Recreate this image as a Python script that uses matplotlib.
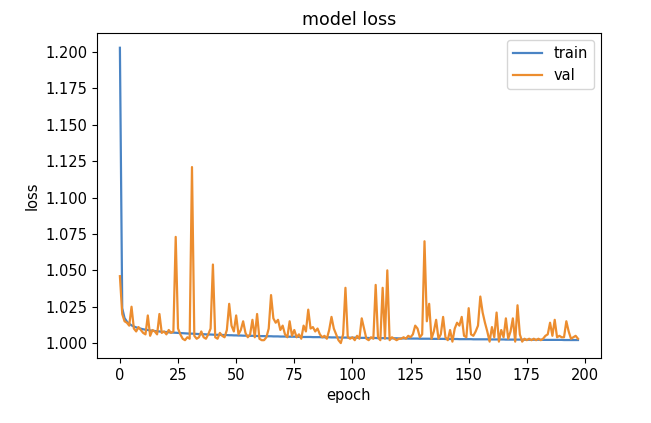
import numpy as np
import matplotlib
matplotlib.use("Agg")
from matplotlib import pyplot as plt

# training history (198 epochs)
train_loss = [
    1.2030, 1.0240, 1.0172, 1.0148, 1.0133, 1.0122, 1.0114, 1.0108, 1.0103, 1.0099,
    1.0095, 1.0092, 1.0090, 1.0087, 1.0085, 1.0083, 1.0081, 1.0080, 1.0078, 1.0077,
    1.0076, 1.0074, 1.0073, 1.0072, 1.0071, 1.0070, 1.0069, 1.0068, 1.0067, 1.0066,
    1.0065, 1.0065, 1.0064, 1.0063, 1.0062, 1.0061, 1.0061, 1.0060, 1.0059, 1.0059,
    1.0058, 1.0057, 1.0057, 1.0056, 1.0056, 1.0055, 1.0055, 1.0054, 1.0054, 1.0053,
    1.0053, 1.0052, 1.0052, 1.0051, 1.0051, 1.0050, 1.0050, 1.0050, 1.0049, 1.0049,
    1.0048, 1.0048, 1.0048, 1.0047, 1.0047, 1.0047, 1.0046, 1.0046, 1.0046, 1.0045,
    1.0045, 1.0045, 1.0044, 1.0044, 1.0044, 1.0044, 1.0043, 1.0043, 1.0043, 1.0042,
    1.0042, 1.0042, 1.0042, 1.0041, 1.0041, 1.0041, 1.0041, 1.0040, 1.0040, 1.0040,
    1.0040, 1.0039, 1.0039, 1.0039, 1.0039, 1.0038, 1.0038, 1.0038, 1.0038, 1.0037,
    1.0037, 1.0037, 1.0037, 1.0036, 1.0036, 1.0036, 1.0036, 1.0035, 1.0035, 1.0035,
    1.0035, 1.0034, 1.0034, 1.0034, 1.0034, 1.0033, 1.0033, 1.0033, 1.0033, 1.0033,
    1.0032, 1.0032, 1.0032, 1.0032, 1.0031, 1.0031, 1.0031, 1.0031, 1.0031, 1.0030,
    1.0030, 1.0030, 1.0030, 1.0030, 1.0029, 1.0029, 1.0029, 1.0029, 1.0029, 1.0029,
    1.0028, 1.0028, 1.0028, 1.0028, 1.0028, 1.0028, 1.0027, 1.0027, 1.0027, 1.0027,
    1.0027, 1.0027, 1.0026, 1.0026, 1.0026, 1.0026, 1.0026, 1.0026, 1.0026, 1.0025,
    1.0025, 1.0025, 1.0025, 1.0025, 1.0025, 1.0025, 1.0024, 1.0024, 1.0024, 1.0024,
    1.0024, 1.0024, 1.0024, 1.0024, 1.0023, 1.0023, 1.0023, 1.0023, 1.0023, 1.0023,
    1.0023, 1.0023, 1.0022, 1.0022, 1.0022, 1.0022, 1.0022, 1.0022, 1.0022, 1.0022,
    1.0022, 1.0021, 1.0021, 1.0021, 1.0021, 1.0021, 1.0021, 1.0021,
]

val_loss = [
    1.046, 1.020, 1.015, 1.014, 1.012, 1.025, 1.010, 1.008, 1.011, 1.009,
    1.007, 1.006, 1.019, 1.005, 1.009, 1.008, 1.006, 1.020, 1.007, 1.008,
    1.006, 1.009, 1.007, 1.008, 1.073, 1.010, 1.006, 1.003, 1.002, 1.004,
    1.003, 1.121, 1.005, 1.003, 1.004, 1.008, 1.004, 1.003, 1.006, 1.010,
    1.054, 1.004, 1.003, 1.007, 1.005, 1.004, 1.009, 1.027, 1.012, 1.008,
    1.019, 1.006, 1.009, 1.015, 1.007, 1.004, 1.006, 1.016, 1.004, 1.020,
    1.003, 1.002, 1.002, 1.004, 1.010, 1.033, 1.017, 1.014, 1.016, 1.009,
    1.012, 1.006, 1.004, 1.015, 1.005, 1.009, 1.004, 1.006, 1.003, 1.012,
    1.008, 1.023, 1.010, 1.011, 1.008, 1.010, 1.006, 1.004, 1.005, 1.003,
    1.009, 1.018, 1.010, 1.006, 1.002, 1.000, 1.006, 1.038, 1.004, 1.003,
    1.004, 1.002, 1.005, 1.003, 1.017, 1.010, 1.003, 1.002, 1.004, 1.003,
    1.040, 1.004, 1.002, 1.038, 1.003, 1.050, 1.002, 1.004, 1.003, 1.002,
    1.003, 1.003, 1.004, 1.003, 1.005, 1.004, 1.006, 1.012, 1.010, 1.004,
    1.006, 1.070, 1.015, 1.027, 1.003, 1.008, 1.016, 1.003, 1.006, 1.018,
    1.004, 1.002, 1.009, 1.001, 1.010, 1.014, 1.012, 1.018, 1.005, 1.004,
    1.024, 1.006, 1.005, 1.008, 1.012, 1.032, 1.021, 1.014, 1.008, 1.001,
    1.011, 1.004, 1.021, 1.001, 1.009, 1.004, 1.017, 1.003, 1.008, 1.017,
    1.001, 1.026, 1.006, 1.001, 1.003, 1.002, 1.003, 1.002, 1.003, 1.002,
    1.003, 1.002, 1.003, 1.005, 1.006, 1.014, 1.005, 1.016, 1.004, 1.005,
    1.004, 1.004, 1.015, 1.008, 1.003, 1.004, 1.005, 1.003,
]

plt.rcParams['font.size'] = 10.5

fig = plt.figure(figsize=(6.51, 4.23), dpi=100)
ax = fig.add_axes([0.149, 0.154, 0.774, 0.768])

ax.plot(train_loss, lw=1.6, color="#4a84c4")   # train
ax.plot(val_loss, lw=1.6, color="#ec8d2f")     # val
ax.set_title('model loss')
ax.set_ylabel('loss')
ax.set_xlabel('epoch')
ax.legend(['train', 'val'], loc='upper right')

fig.savefig('out.png', dpi=100)
